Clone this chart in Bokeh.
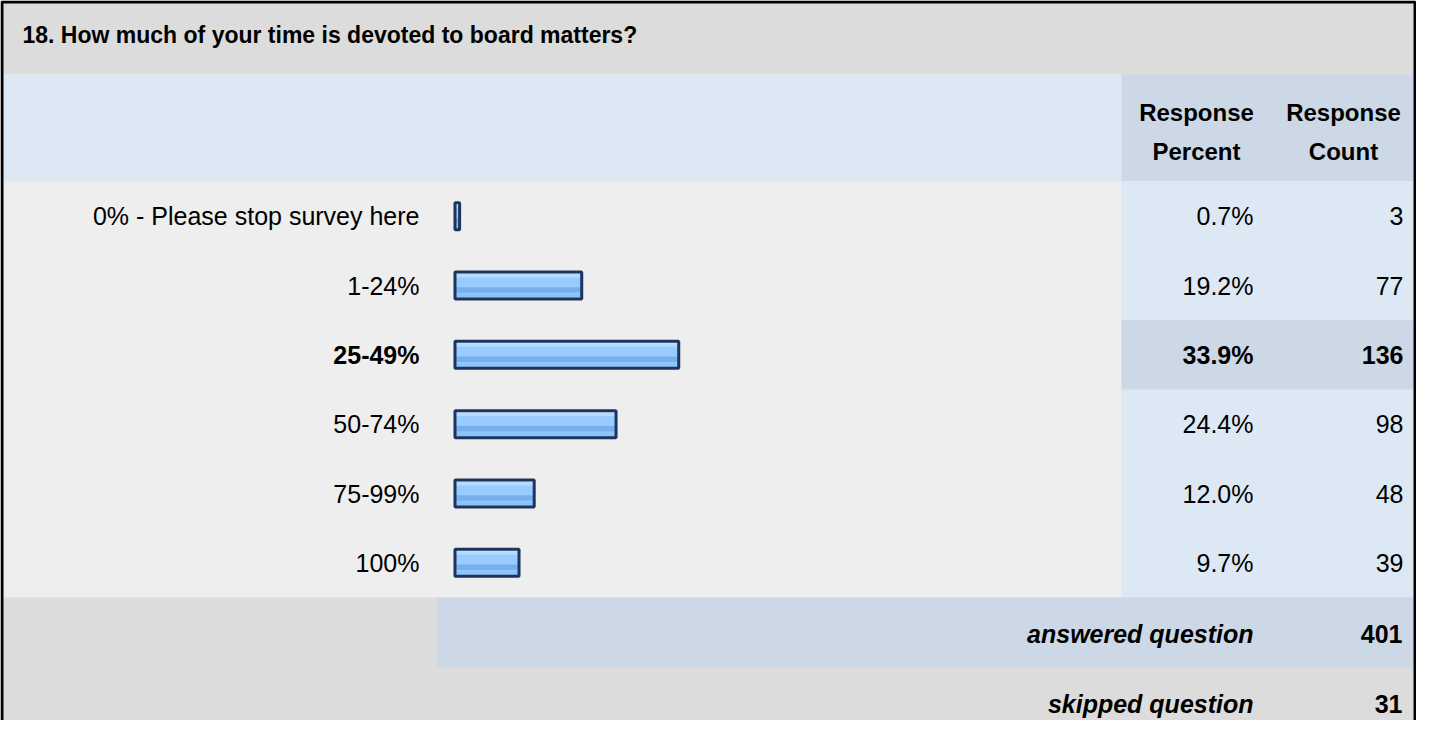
from bokeh.plotting import figure
from bokeh.models import Range1d, ColumnDataSource
from bokeh.core.properties import value, field
from bokeh.embed import file_html
from bokeh.resources import INLINE

# ---------------- data ----------------
title = "18. How much of your time is devoted to board matters?"
categories = ["0% - Please stop survey here", "1-24%", "25-49%", "50-74%", "75-99%", "100%"]
percents = [0.7, 19.2, 33.9, 24.4, 12.0, 9.7]
counts = [3, 77, 136, 98, 48, 39]
highlight = "25-49%"
header_percent = ["Response", "Percent"]
header_count = ["Response", "Count"]
summary_labels = ["answered question", "skipped question"]
summary_values = [401, 31]

# ---------------- layout ----------------
W, H = 1416, 720
FONT = value("Liberation Sans")
FS = "25px"

p = figure(width=W, height=H, x_range=Range1d(0, W), y_range=Range1d(H, 0),
           output_backend="svg", toolbar_location=None, x_axis_type=None, y_axis_type=None,
           min_border=0, background_fill_color="#eeeeee", border_fill_color="white")
p.grid.visible = False
p.outline_line_color = None

L, R = 3, W - 3
title_top, header_top, data_top, data_bot = 3, 74, 181, 597
ans_bot = 667
col1 = 1121
pct_x, pct_hx = 1253, 1196
cnt_x, cnt_hx = 1403, 1343
n = len(categories)
row_h = (data_bot - data_top) / n
centers = [data_top + row_h * (i + 0.5) for i in range(n)]

# backgrounds
p.quad(left=L, right=R, top=title_top, bottom=header_top, fill_color="#dcdcdc", line_color=None)
p.quad(left=L, right=R, top=header_top, bottom=data_top, fill_color="#dde8f5", line_color=None)
p.quad(left=col1, right=R, top=header_top, bottom=data_top, fill_color="#ccd8e6", line_color=None)
p.quad(left=L, right=R, top=data_top, bottom=data_bot, fill_color="#eeeeee", line_color=None)
p.quad(left=col1, right=R, top=data_top, bottom=data_bot, fill_color="#dde8f5", line_color=None)
hi = [i for i, c in enumerate(categories) if c == highlight]
p.quad(left=[col1] * len(hi), right=[R] * len(hi),
       top=[data_top + row_h * i for i in hi], bottom=[data_top + row_h * (i + 1) for i in hi],
       fill_color="#ccd8e6", line_color=None)
p.quad(left=L, right=R, top=data_bot, bottom=H, fill_color="#dcdcdc", line_color=None)
p.quad(left=437, right=R, top=data_bot, bottom=ans_bot, fill_color="#ccd8e6", line_color=None)

# outer frame (left, top, right)
p.line(x=[1.5, 1.5, W - 1.5, W - 1.5], y=[H, 1.5, 1.5, H], line_color="black", line_width=3)

# ---------------- bars ----------------
k = 6.6          # pixels per percent
x0 = 454.5
p.extra_x_ranges = {"pct": Range1d((0 - x0) / k, (W - x0) / k)}
bar_h = 27
zeros = [0] * n
p.hbar(y=centers, left=zeros, right=percents, height=bar_h, x_range_name="pct",
       fill_color="#9acbff", line_color=None)
stripes = [(-12, 2, "#cfe7ff"), (-9.5, 3, "#b3dbff"), (4.5, 5.5, "#78b0ee"), (10, 4, "#8cc3fb")]
for off, h, col in stripes:
    p.hbar(y=[c + off for c in centers], left=zeros, right=percents, height=h, x_range_name="pct",
           fill_color=col, line_color=None)
p.hbar(y=centers, left=zeros, right=percents, height=bar_h, x_range_name="pct",
       fill_color=None, line_color="#1b355d", line_width=3)

# ---------------- texts ----------------
styles = ["bold" if c == highlight else "normal" for c in categories]
src = ColumnDataSource(dict(y=centers, cat=categories,
                            pct=[f"{v:.1f}%" for v in percents],
                            cnt=[str(c) for c in counts], style=styles))
common = dict(text_font=FONT, text_font_size=FS, text_color="black",
              text_baseline="middle", text_font_style=field("style"), source=src)
p.text(x=419, y="y", text="cat", text_align="right", **common)
p.text(x=pct_x, y="y", text="pct", text_align="right", **common)
p.text(x=cnt_x, y="y", text="cnt", text_align="right", **common)

p.text(x=[22], y=[34], text=[title], text_font=FONT, text_font_size="23px",
       text_font_style="bold", text_color="black", text_baseline="middle", text_align="left")

p.text(x=[pct_hx, pct_hx], y=[112, 151], text=header_percent, text_font=FONT, text_font_size="24px",
       text_font_style="bold", text_color="black", text_baseline="middle", text_align="center")
p.text(x=[cnt_hx, cnt_hx], y=[112, 151], text=header_count, text_font=FONT, text_font_size="24px",
       text_font_style="bold", text_color="black", text_baseline="middle", text_align="center")

sum_y = [633, 703]
p.text(x=[pct_x, pct_x], y=sum_y, text=summary_labels, text_font=FONT, text_font_size=FS,
       text_font_style="bold italic", text_color="black", text_baseline="middle", text_align="right")
p.text(x=[cnt_x - 1, cnt_x - 1], y=sum_y, text=[str(v) for v in summary_values], text_font=FONT,
       text_font_size=FS, text_font_style="bold", text_color="black",
       text_baseline="middle", text_align="right")

open("out.html", "w").write(file_html(p, INLINE))
